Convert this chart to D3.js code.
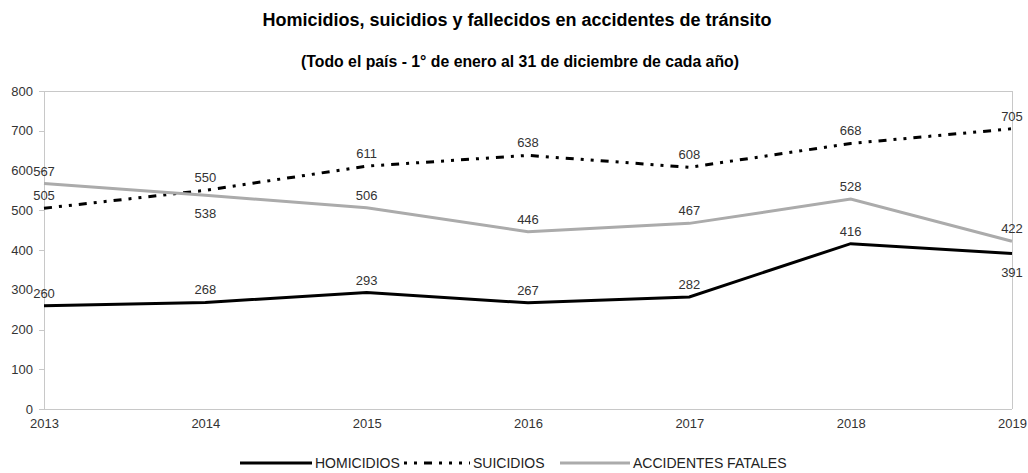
<!DOCTYPE html>
<html lang="es">
<head>
<meta charset="UTF-8">
<title>Homicidios, suicidios y fallecidos en accidentes de tránsito</title>
<script src="https://d3js.org/d3.v7.min.js"></script>
<style>
  body { margin: 0; background: #fff; }
  svg { display: block; font-family: "Liberation Sans", Arial, sans-serif; }
  .axis path, .axis line { stroke: #c8c8c8; shape-rendering: crispEdges; }
  .axis text { fill: #333; font-size: 13px; }
</style>
</head>
<body>
<svg width="1028" height="473"></svg>
<script>
// datos
const years = [2013, 2014, 2015, 2016, 2017, 2018, 2019];
const homicidios = [260, 268, 293, 267, 282, 416, 391];
const suicidios = [505, 550, 611, 638, 608, 668, 705];
const accidentes = [567, 538, 506, 446, 467, 528, 422];
const yTicks = [0, 100, 200, 300, 400, 500, 600, 700, 800];
// posicion de la etiqueta: arriba o abajo del punto
const homLabelPos = ["up", "up", "up", "up", "up", "up", "down"];
const suiLabelPos = ["up", "up", "up", "up", "up", "up", "up"];
const accLabelPos = ["up", "down", "up", "up", "up", "up", "up"];

const series = [
  {name: "HOMICIDIOS", values: homicidios, pos: homLabelPos, color: "#000", dash: null},
  {name: "SUICIDIOS", values: suicidios, pos: suiLabelPos, color: "#000", dash: "8,7,3,7,3,7"},
  {name: "ACCIDENTES FATALES", values: accidentes, pos: accLabelPos, color: "#ababab", dash: null}
];

const svg = d3.select("svg");
const margin = {top: 91, right: 16, bottom: 64, left: 44};
const width = 1028 - margin.left - margin.right;
const height = 473 - margin.top - margin.bottom;

svg.append("text")
  .attr("x", 517).attr("y", 26)
  .attr("text-anchor", "middle")
  .style("font-size", "18px").style("font-weight", "bold")
  .text("Homicidios, suicidios y fallecidos en accidentes de tránsito");

svg.append("text")
  .attr("x", 520).attr("y", 67)
  .attr("text-anchor", "middle")
  .style("font-size", "15.8px").style("font-weight", "bold")
  .text("(Todo el país - 1° de enero al 31 de diciembre de cada año)");

const g = svg.append("g").attr("transform", `translate(${margin.left},${margin.top})`);

const x = d3.scalePoint().domain(years).range([0, width]);
const y = d3.scaleLinear().domain([0, 800]).range([height, 0]);

// linea superior y linea derecha
g.append("line").attr("x1", 0).attr("x2", width).attr("y1", y(800)).attr("y2", y(800))
  .attr("stroke", "#c8c8c8").attr("shape-rendering", "crispEdges");
g.append("line").attr("x1", width).attr("x2", width).attr("y1", 0).attr("y2", height)
  .attr("stroke", "#c8c8c8").attr("shape-rendering", "crispEdges");

g.append("g")
  .attr("class", "axis")
  .call(d3.axisLeft(y).tickValues(yTicks).tickSize(5).tickPadding(6))
  .call(a => a.select(".domain").attr("d", `M0,${height}V0`));

g.append("g")
  .attr("class", "axis")
  .attr("transform", `translate(0,${height})`)
  .call(d3.axisBottom(x).tickSize(0).tickPadding(10))
  .call(a => a.select(".domain").attr("d", `M0,0H${width}`));

const line = d3.line().x((d, i) => x(years[i])).y(d => y(d));

series.forEach(s => {
  g.append("path")
    .datum(s.values)
    .attr("fill", "none")
    .attr("stroke", s.color)
    .attr("stroke-width", 3)
    .attr("stroke-dasharray", s.dash)
    .attr("d", line);
});

series.forEach(s => {
  g.selectAll(null)
    .data(s.values)
    .enter().append("text")
    .attr("x", (d, i) => x(years[i]))
    .attr("y", (d, i) => y(d) + (s.pos[i] === "up" ? -8 : 23))
    .attr("text-anchor", "middle")
    .style("font-size", "13px")
    .style("fill", "#333")
    .text(d => d);
});

// leyenda
const legend = [
  {x0: 240, x1: 312, tx: 315},
  {x0: 404, x1: 470, tx: 473},
  {x0: 560, x1: 630, tx: 633}
];
series.forEach((s, i) => {
  const l = legend[i];
  svg.append("line")
    .attr("x1", l.x0).attr("x2", l.x1).attr("y1", 463).attr("y2", 463)
    .attr("stroke", s.color).attr("stroke-width", 3)
    .attr("stroke-dasharray", s.dash ? "3,7,3,7,8,7,3,7,3,7" : null);
  svg.append("text")
    .attr("x", l.tx).attr("y", 468)
    .style("font-size", "14px").style("fill", "#222")
    .text(s.name);
});
</script>
</body>
</html>
